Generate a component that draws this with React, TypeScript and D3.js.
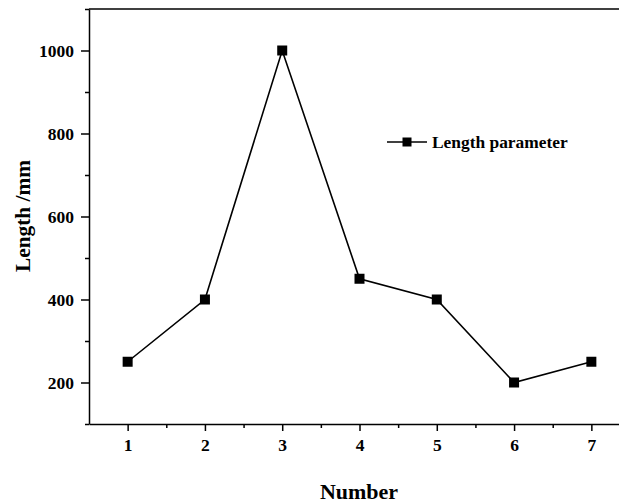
import React, { useEffect, useRef } from 'react';
import * as d3 from 'd3';

const numbers = [1, 2, 3, 4, 5, 6, 7];
const lengths = [250, 400, 1000, 450, 400, 200, 250];
const yTicks = [200, 400, 600, 800, 1000];
const seriesName = 'Length parameter';

const W = 619;
const H = 504;
const FONT = '"Liberation Serif", "Times New Roman", serif';

const App = () => {
  const ref = useRef<SVGSVGElement>(null);

  useEffect(() => {
    if (!ref.current) return;
    const svg = d3.select(ref.current);
    svg.selectAll('*').remove();

    const margin = { top: 9, left: 89, bottom: 80 };
    const x = d3.scaleLinear().domain([0.5, 7.5]).range([margin.left, 630]);
    const y = d3.scaleLinear().domain([100, 1100]).range([H - margin.bottom, margin.top]);

    const g = svg.append('g');

    // minor ticks
    const yMinor = d3.range(100, 1101, 100).filter(v => !yTicks.includes(v));
    g.append('g')
      .attr('transform', `translate(${margin.left},0)`)
      .call(d3.axisLeft(y).tickValues(yMinor).tickSize(4).tickFormat(() => '').tickSizeOuter(0))
      .call(s => s.select('.domain').remove())
      .selectAll('line').attr('stroke-width', 1.5);
    const xMinor = d3.range(1.5, 7.6, 1);
    g.append('g')
      .attr('transform', `translate(0,${y(100)})`)
      .call(d3.axisBottom(x).tickValues(xMinor).tickSize(4).tickFormat(() => '').tickSizeOuter(0))
      .call(s => s.select('.domain').remove())
      .selectAll('line').attr('stroke-width', 1.5);

    // major axes
    const yAxis = g.append('g')
      .attr('transform', `translate(${margin.left},0)`)
      .call(d3.axisLeft(y).tickValues(yTicks).tickFormat(d3.format('d')).tickSize(8).tickPadding(7).tickSizeOuter(0));
    const xAxis = g.append('g')
      .attr('transform', `translate(0,${y(100)})`)
      .call(d3.axisBottom(x).tickValues(numbers).tickFormat(d3.format('d')).tickSize(7).tickPadding(8).tickSizeOuter(0));
    [yAxis, xAxis].forEach(a => {
      a.selectAll('path, line').attr('stroke', '#000').attr('stroke-width', 1.5);
      a.selectAll('text')
        .attr('fill', '#000')
        .style('font-family', FONT)
        .style('font-weight', 'bold')
        .style('font-size', '17.5px');
    });

    // top frame line
    g.append('line')
      .attr('x1', margin.left).attr('x2', 630)
      .attr('y1', y(1100)).attr('y2', y(1100))
      .attr('stroke', '#000').attr('stroke-width', 1.5);

    const pts = numbers.map((n, i) => [n, lengths[i]] as [number, number]);
    const line = d3.line<[number, number]>().x(d => x(d[0])).y(d => y(d[1]));
    g.append('path')
      .datum(pts)
      .attr('fill', 'none')
      .attr('stroke', '#000')
      .attr('stroke-width', 1.6)
      .attr('d', line);

    g.selectAll('rect.pt')
      .data(pts)
      .enter().append('rect')
      .attr('class', 'pt')
      .attr('x', d => x(d[0]) - 5)
      .attr('y', d => y(d[1]) - 5)
      .attr('width', 10)
      .attr('height', 10)
      .attr('fill', '#000');

    // legend
    const lg = g.append('g').attr('transform', 'translate(387,142)');
    lg.append('line').attr('x1', 0).attr('x2', 40).attr('y1', 0).attr('y2', 0)
      .attr('stroke', '#000').attr('stroke-width', 1.6);
    lg.append('rect').attr('x', 15.5).attr('y', -4.5).attr('width', 9).attr('height', 9).attr('fill', '#000');
    lg.append('text')
      .attr('x', 45).attr('y', 6)
      .style('font-family', FONT).style('font-weight', 'bold').style('font-size', '17.4px')
      .text(seriesName);

    // axis titles
    g.append('text')
      .attr('transform', `translate(30,216) rotate(-90)`)
      .attr('text-anchor', 'middle')
      .style('font-family', FONT).style('font-weight', 'bold').style('font-size', '21.3px')
      .text('Length /mm');
    g.append('text')
      .attr('x', 359).attr('y', 499)
      .attr('text-anchor', 'middle')
      .style('font-family', FONT).style('font-weight', 'bold').style('font-size', '22px')
      .text('Number');
  }, []);

  return (
    <svg ref={ref} width={W} height={H} style={{ position: 'absolute', left: 0, top: 0, background: '#fff' }} />
  );
};

export default App;
